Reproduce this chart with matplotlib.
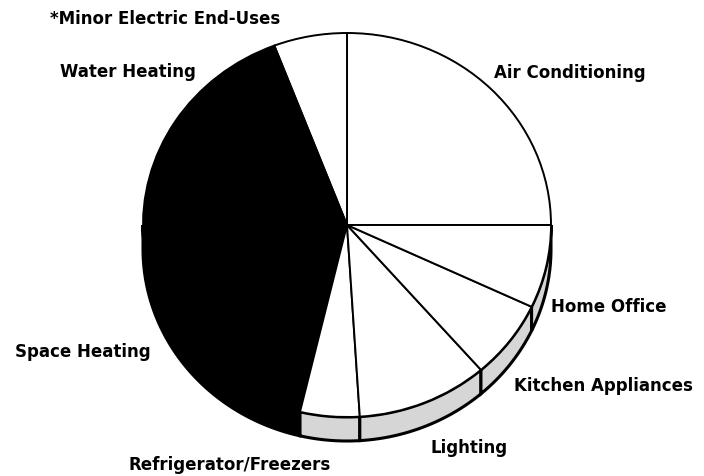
import numpy as np
import matplotlib
matplotlib.use("Agg")
import matplotlib.pyplot as plt

# residential electricity end uses, percent of total
labels = ["Air Conditioning", "Water Heating", "Space Heating",
          "Refrigerator/Freezers", "Lighting", "Kitchen Appliances", "Home Office"]
shares = [25.0, 5.8, 40.5, 4.7, 10.4, 6.6, 7.0]
colors = ["white", "white", "black", "white", "white", "white", "white"]

W, H = 704, 477
cx, cy = 347, 226      # pie centre (pixels from top-left)
rx, ry = 204, 192      # on-screen radii
depth = 0.125          # thickness of the rim, in pie radii


def place(px, py, s):
    fig.text(px / W, 1 - py / H, s, va="center", ha="left",
             fontsize=12, fontweight="bold", family="DejaVu Sans", color="black")


fig = plt.figure(figsize=(W / 100, H / 100), dpi=100)
ax = fig.add_axes([0, 0, 1, 1])

# rim under the lower half of the pie
angles = np.concatenate([[0], np.cumsum(shares)]) / sum(shares) * 360
for a0, a1, c in zip(angles[:-1], angles[1:], colors):
    lo, hi = max(a0, 180), min(a1, 360)
    if hi <= lo:
        continue
    t = np.radians(np.linspace(lo, hi, 80))
    xs = np.concatenate([np.cos(t), np.cos(t[::-1])])
    ys = np.concatenate([np.sin(t), np.sin(t[::-1]) - depth])
    face = "black" if c == "black" else "#d6d6d6"
    ax.fill(xs, ys, facecolor=face, edgecolor="black", linewidth=2.2, zorder=1)

ax.pie(shares, colors=colors, startangle=0, counterclock=True, radius=1,
       wedgeprops=dict(edgecolor="black", linewidth=1.4, zorder=2))

ax.set_aspect("auto")
ax.set_xlim(-cx / rx, (W - cx) / rx)
ax.set_ylim(-(H - cy) / ry, cy / ry)
ax.axis("off")

place(50, 19, "*Minor Electric End-Uses")
place(60, 72, "Water Heating")
place(494, 73, "Air Conditioning")
place(551, 307, "Home Office")
place(514, 386, "Kitchen Appliances")
place(430, 448, "Lighting")
place(15, 352, "Space Heating")
place(128, 465, "Refrigerator/Freezers")

fig.savefig("out.png", dpi=100)
